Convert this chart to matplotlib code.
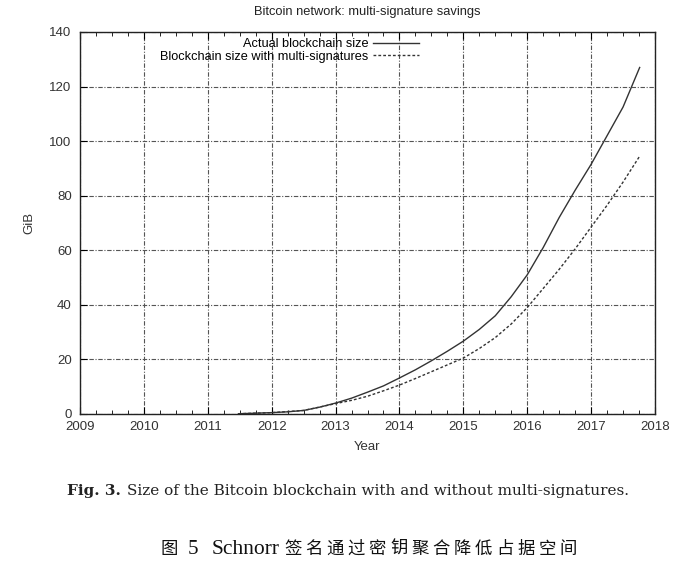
import numpy as np
import matplotlib.pyplot as plt
from matplotlib.ticker import MultipleLocator

plt.rcParams['font.family'] = ['Liberation Sans', 'DejaVu Sans']

# blockchain size (GiB)
years_actual = [2011.48, 2011.75, 2012.0, 2012.25, 2012.5, 2012.75, 2013.0, 2013.25,
                2013.5, 2013.75, 2014.0, 2014.25, 2014.5, 2014.75, 2015.0, 2015.25,
                2015.5, 2015.75, 2016.0, 2016.25, 2016.5, 2016.75, 2017.0, 2017.25,
                2017.5, 2017.76]
size_actual = [0.1, 0.3, 0.5, 0.8, 1.3, 2.5, 4.0, 5.8,
               8.0, 10.3, 13.2, 16.2, 19.5, 23.0, 26.7, 31.0,
               36.0, 43.0, 51.0, 61.0, 72.0, 82.0, 91.5, 102.0,
               112.5, 127.0]

years_multi = [2011.48, 2012.0, 2012.5, 2013.0, 2013.25, 2013.5, 2013.75, 2014.0,
               2014.25, 2014.5, 2014.75, 2015.0, 2015.25, 2015.5, 2015.75, 2016.0,
               2016.25, 2016.5, 2016.75, 2017.0, 2017.25, 2017.5, 2017.76]
size_multi = [0.1, 0.5, 1.3, 3.8, 5.0, 6.5, 8.5, 10.6,
              13.0, 15.5, 18.0, 20.5, 24.0, 28.0, 33.0, 39.0,
              46.0, 53.0, 60.5, 68.5, 76.5, 85.0, 94.5]

labels = ['Actual blockchain size', 'Blockchain size with multi-signatures']

fig = plt.figure(figsize=(6.97, 5.68), dpi=100)
ax = fig.add_axes([80/697, 1 - 414/568, 575/697, 382/568])

ax.plot(years_actual, size_actual, color='#333333', lw=1.0, label=labels[0])
ax.plot(years_multi, size_multi, color='#333333', lw=1.0, ls=(0, (2, 1.5)), label=labels[1])

ax.set_xlim(2009, 2018)
ax.set_ylim(0, 140)
ax.xaxis.set_major_locator(MultipleLocator(1))
ax.xaxis.set_minor_locator(MultipleLocator(0.25))
ax.yaxis.set_major_locator(MultipleLocator(20))
ax.tick_params(which='both', direction='in', top=True, right=False, labelsize=9.5,
               labelcolor='#333333')
ax.tick_params(axis='x', pad=5)
ax.tick_params(axis='y', pad=6)
ax.tick_params(which='major', length=5)
ax.tick_params(which='minor', length=3)
ax.xaxis.set_major_formatter(plt.FuncFormatter(lambda v, p: '%d' % v))
ax.grid(True, which='major', color='#555555', lw=0.8, ls=(0, (4, 1.5, 1, 1.5)))
for s in ax.spines.values():
    s.set_linewidth(1.0)
    s.set_color('#222222')

ax.set_title('Bitcoin network: multi-signature savings', fontsize=9.3, pad=12, color='#222222')
ax.set_xlabel('Year', fontsize=9.5, labelpad=6, color='#333333')
ax.set_ylabel('GiB', fontsize=9.5, labelpad=10, color='#333333')

ax.legend(loc='upper right', bbox_to_anchor=(0.589, 0.984), frameon=False,
          markerfirst=False, fontsize=9.2, handlelength=3.6, handletextpad=0.35,
          labelspacing=0.05, borderaxespad=0, borderpad=0)

# captions below the chart
fig.canvas.draw()
r = fig.canvas.get_renderer()
W = fig.bbox.width

t1 = fig.text(67/W, 1 - 491/568, 'Fig. 3.', fontsize=11, fontweight='bold',
              family='DejaVu Serif', va='center', ha='left', color='#222222')
bb = t1.get_window_extent(renderer=r)
fig.text((bb.x1 + 6) / W, 1 - 491/568,
         'Size of the Bitcoin blockchain with and without multi-signatures.',
         fontsize=11, family='DejaVu Serif', va='center', ha='left', color='#222222')

cap_y = 1 - 549/568
fig.text(160/W, cap_y, '图', fontsize=12.5, family='Noto Sans CJK SC',
         va='center', ha='left', color='#111111')
fig.text(188/W, cap_y, '5', fontsize=15, family='Liberation Serif',
         va='center', ha='left', color='#111111')
fig.text(212/W, cap_y, 'Schnorr', fontsize=15.5, family='Liberation Serif',
         va='center', ha='left', color='#111111')
cjk = '签名通过密钥聚合降低占据空间'
for i, ch in enumerate(cjk):
    fig.text((284 + i * 21.2) / W, cap_y, ch, fontsize=12.5, family='Noto Sans CJK SC',
             va='center', ha='left', color='#111111')

fig.savefig('out.png', dpi=100)
